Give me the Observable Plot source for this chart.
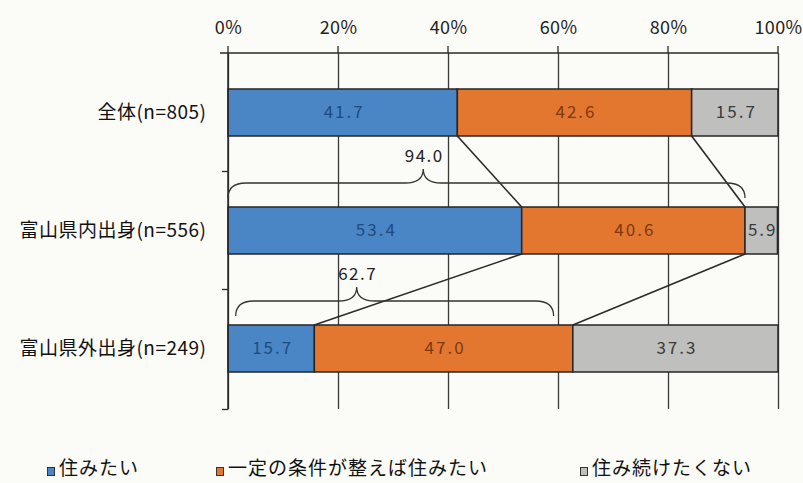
<!DOCTYPE html>
<html>
<head>
<meta charset="utf-8">
<script src="https://cdn.jsdelivr.net/npm/d3@7"></script>
<script src="https://cdn.jsdelivr.net/npm/@observablehq/plot@0.6"></script>
<style>
  html, body { margin: 0; padding: 0; background: #fbfbf7; }
  body { width: 803px; height: 483px; position: relative; overflow: hidden; font-family: 'Noto Sans CJK JP', 'Noto Sans', sans-serif; }
  #chart svg { display: block; overflow: visible; }
  g[aria-label^="y-axis"] text { font-size: 19px; fill: #111; letter-spacing: 0.5px; }
  g[aria-label^="x-axis"] text { font-size: 18px; fill: #222; letter-spacing: 0.4px; }
  .legend-item { position: absolute; top: 456px; font-size: 19px; color: #111; white-space: nowrap; line-height: 22px; letter-spacing: 1px; }
  .legend-item .sw { display: inline-block; width: 6px; height: 7px; border: 1.3px solid #333; margin-right: 4px; vertical-align: -1px; }
</style>
</head>
<body>
<div id="chart"></div>
<div id="legend"></div>
<script>
(function () {
// ---- data ----
const categories = ["全体(n=805)", "富山県内出身(n=556)", "富山県外出身(n=249)"];
const seriesNames = ["住みたい", "一定の条件が整えば住みたい", "住み続けたくない"];
const wantToLive = [41.7, 53.4, 15.7];
const wantIfConditions = [42.6, 40.6, 47.0];
const notWantToContinue = [15.7, 5.9, 37.3];
const tickValues = [0, 20, 40, 60, 80, 100];
const tickLabels = ["0%", "20%", "40%", "60%", "80%", "100%"];
// brace annotations (above the given row): start, end, apex position (%), label
const braceRows = [categories[1], categories[2]];
const braceStart = [0, 1.4];
const braceEnd = [94.0, 59.2];
const braceApex = [35.5, 23.4];
const braceLabels = ["94.0", "62.7"];

const fills = ["#4a85c6", "#e4772f", "#bfbfbd"];
const textFills = ["#1f4c7c", "#7a3a12", "#3a3a3a"];

const seriesValues = [wantToLive, wantIfConditions, notWantToContinue];
const rows = [];
categories.forEach((c, i) => {
  seriesNames.forEach((s, j) => {
    rows.push({cat: c, series: s, si: j, value: seriesValues[j][i]});
  });
});

const chart = Plot.plot({
  width: 803,
  height: 440,
  marginLeft: 228,
  marginRight: 25,
  marginTop: 53,
  marginBottom: 31,
  style: {background: "transparent", fontFamily: "'Noto Sans CJK JP', 'Noto Sans', sans-serif", fontSize: "15px", color: "#222", overflow: "visible"},
  x: {domain: [0, 100], axis: "top", ticks: 5, tickFormat: d => tickLabels[tickValues.indexOf(d)], tickSize: 0, tickPadding: 20, label: null},
  y: {domain: categories, paddingInner: 0.6, paddingOuter: 0.3, tickSize: 0, tickPadding: 22, label: null},
  color: {domain: seriesNames, range: fills},
  marks: [
    Plot.ruleX(tickValues, {stroke: "#3a3a3a", strokeWidth: 1.3}),
    Plot.barX(rows, Plot.stackX({x: "value", y: "cat", fill: "series", stroke: "#262626", strokeWidth: 1.5})),
    Plot.text(rows, Plot.stackX({x: "value", y: "cat", z: "series", text: d => d.value.toFixed(1), fill: d => textFills[d.si], fontSize: 17, dx: 1}))
  ]
});
document.getElementById("chart").appendChild(chart);
d3.select(chart).selectAll('g[aria-label="text"] text').style("letter-spacing", "2px");

// ---- annotations using the plot's scales ----
const xs = chart.scale("x");
const ys = chart.scale("y");
const X = v => xs.apply(v);
const bw = ys.bandwidth;
const bandTop = c => ys.apply(c);
const svg = d3.select(chart);
const g = svg.append("g").attr("fill", "none").attr("stroke", "#2a2a2a");

const y0 = 53, y1 = 409.5;
g.append("line").attr("x1", X(0) - 8).attr("x2", X(100)).attr("y1", y0).attr("y2", y0).attr("stroke-width", 1.5);
tickValues.forEach(t => g.append("line").attr("x1", X(t)).attr("x2", X(t)).attr("y1", y0 - 7).attr("y2", y0).attr("stroke-width", 1.3));
g.append("line").attr("x1", X(0)).attr("x2", X(0)).attr("y1", y0).attr("y2", y1).attr("stroke-width", 1.5);
const centers = categories.map(c => bandTop(c) + bw / 2);
const bounds = [(centers[0] + centers[1]) / 2, (centers[1] + centers[2]) / 2, y1];
bounds.forEach(b => g.append("line").attr("x1", X(0) - 6).attr("x2", X(0)).attr("y1", b).attr("y2", b).attr("stroke-width", 1.3));

// connector lines between stacked segment ends
for (let i = 0; i < categories.length - 1; i++) {
  let cumA = 0, cumB = 0;
  for (let j = 0; j < seriesNames.length - 1; j++) {
    cumA += seriesValues[j][i];
    cumB += seriesValues[j][i + 1];
    g.append("line")
      .attr("x1", X(cumA)).attr("y1", bandTop(categories[i]) + bw)
      .attr("x2", X(cumB)).attr("y2", bandTop(categories[i + 1]))
      .attr("stroke-width", 1.6);
  }
}

// braces
braceRows.forEach((c, k) => {
  const t = bandTop(c);
  const yE = t - 9, yL = t - 24, yA = t - 38;
  const xa = X(braceStart[k]), xb = X(braceEnd[k]), xm = X(braceApex[k]);
  const r = 18;
  const d = `M${xa},${yE} Q${xa},${yL} ${xa + r},${yL} L${xm - r},${yL} Q${xm},${yL} ${xm},${yA} Q${xm},${yL} ${xm + r},${yL} L${xb - r},${yL} Q${xb},${yL} ${xb},${yE}`;
  g.append("path").attr("d", d).attr("stroke", "#333").attr("stroke-width", 1.3);
  svg.append("text").attr("x", xm + 1).attr("y", t - 51).attr("text-anchor", "middle").attr("dy", "0.35em")
    .attr("font-size", 17).attr("fill", "#222").style("letter-spacing", "1.5px")
    .attr("font-family", "'Noto Sans CJK JP', sans-serif").text(braceLabels[k]);
});

// ---- legend ----
const legendX = [47, 216, 580];
const legend = document.getElementById("legend");
seriesNames.forEach((s, j) => {
  const item = document.createElement("div");
  item.className = "legend-item";
  item.style.left = legendX[j] + "px";
  const sw = document.createElement("span");
  sw.className = "sw";
  sw.style.background = fills[j];
  item.appendChild(sw);
  item.appendChild(document.createTextNode(s));
  legend.appendChild(item);
});
})();
</script>
</body>
</html>
